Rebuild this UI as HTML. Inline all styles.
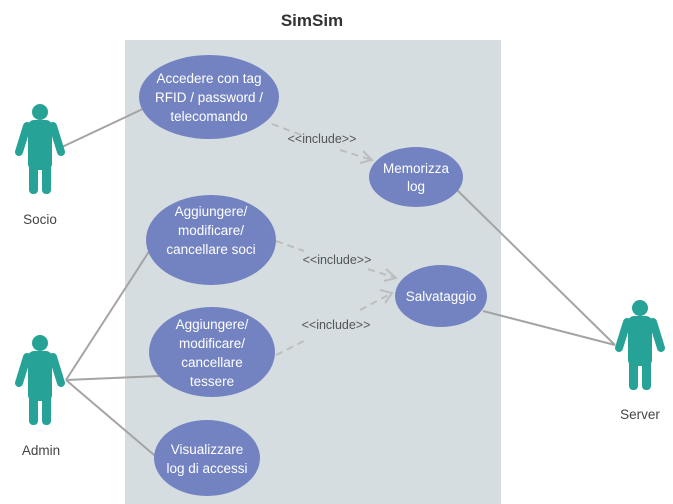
<!DOCTYPE html>
<html><head><meta charset="utf-8"><style>
body{margin:0;background:#fff}
svg{display:block;font-family:"Liberation Sans",sans-serif}
</style></head><body>
<svg width="673" height="504" viewBox="0 0 673 504">
<defs>
<g id="actor">
<circle cx="0" cy="0" r="8" fill="#26a396"/>
<rect x="-12" y="8" width="24" height="50" rx="6" fill="#26a396"/>
<rect x="-11" y="48" width="9" height="34" rx="4" fill="#26a396"/>
<rect x="2" y="48" width="9" height="34" rx="4" fill="#26a396"/>
<line x1="-13" y1="14" x2="-21" y2="40" stroke="#26a396" stroke-width="8" stroke-linecap="round"/>
<line x1="13" y1="14" x2="21" y2="40" stroke="#26a396" stroke-width="8" stroke-linecap="round"/>
</g>
</defs>
<text x="312" y="26" text-anchor="middle" font-size="17" font-weight="bold" fill="#333">SimSim</text>
<rect x="125" y="40" width="376" height="464" fill="#d5dde1"/>
<g stroke="#a4a4a4" stroke-width="2">
<line x1="62" y1="147" x2="147" y2="107"/>
<line x1="66" y1="380" x2="150" y2="250"/>
<line x1="66" y1="380" x2="160" y2="376"/>
<line x1="66" y1="380" x2="160" y2="460"/>
<line x1="615" y1="345" x2="457" y2="190"/>
<line x1="615" y1="345" x2="483" y2="311"/>
</g>
<g stroke="#bdbdbd" stroke-width="2" stroke-dasharray="7,5" fill="none">
<path d="M272 124 L304 136 M340 150 L372 160"/>
<path d="M276 241 L304 251 M368 269 L396 278"/>
<path d="M276 355 L304 341 M360 310 L392 293"/>
</g>
<g stroke="#bdbdbd" stroke-width="2" fill="none">
<path d="M363 151 L372 160 L360 163"/>
<path d="M386 269 L396 278 L384 281"/>
<path d="M380 290 L392 293 L385 303"/>
</g>
<g font-size="12.5" fill="#555" text-anchor="middle">
<text x="322" y="143">&lt;&lt;include&gt;&gt;</text>
<text x="337" y="264">&lt;&lt;include&gt;&gt;</text>
<text x="336" y="329">&lt;&lt;include&gt;&gt;</text>
</g>
<g fill="#7383c1">
<ellipse cx="209" cy="97" rx="70" ry="42"/>
<ellipse cx="416" cy="177" rx="47" ry="30"/>
<ellipse cx="211" cy="240" rx="65" ry="45"/>
<ellipse cx="441" cy="296" rx="46" ry="31"/>
<ellipse cx="212" cy="352" rx="63" ry="45"/>
<ellipse cx="207" cy="458" rx="53" ry="38"/>
</g>
<g font-size="13.5" fill="#fff" text-anchor="middle">
<text x="209" y="83">Accedere con tag</text><text x="209" y="102">RFID / password /</text><text x="209" y="121">telecomando</text>
<text x="416" y="173">Memorizza</text><text x="416" y="191">log</text>
<text x="211" y="216">Aggiungere/</text><text x="211" y="235">modificare/</text><text x="211" y="254">cancellare soci</text>
<text x="441" y="301">Salvataggio</text>
<text x="212" y="329">Aggiungere/</text><text x="212" y="348">modificare/</text><text x="212" y="367">cancellare</text><text x="212" y="386">tessere</text>
<text x="207" y="454">Visualizzare</text><text x="207" y="473">log di accessi</text>
</g>
<use href="#actor" x="40" y="112"/>
<use href="#actor" x="40" y="343"/>
<use href="#actor" x="640" y="308"/>
<g font-size="13.5" fill="#444" text-anchor="middle">
<text x="40" y="224">Socio</text>
<text x="41" y="455">Admin</text>
<text x="640" y="419">Server</text>
</g>
</svg>
</body></html>
